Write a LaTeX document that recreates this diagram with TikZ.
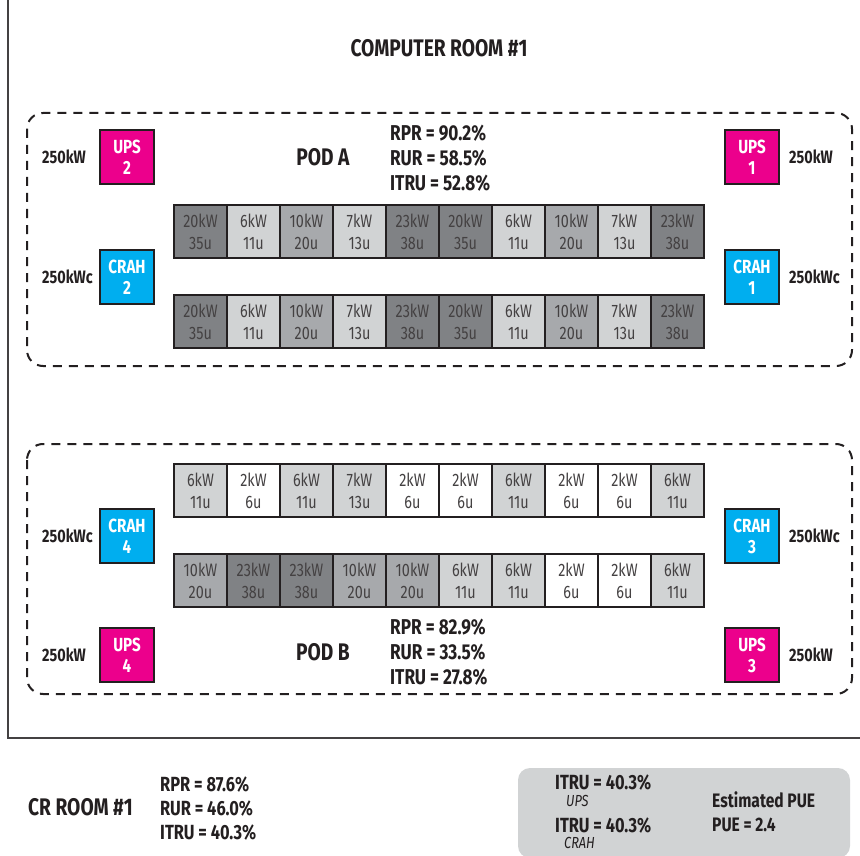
\documentclass[tikz,border=0pt]{standalone}
\usepackage{fontspec}
\setmainfont{Fira Sans}[FakeStretch=0.8]
\usepackage{tikz}
\usetikzlibrary{positioning}
\definecolor{ink}{HTML}{231F20}
\definecolor{upsmag}{HTML}{EC008C}
\definecolor{crahcyan}{HTML}{00AEEF}
\definecolor{panel}{HTML}{D1D3D4}
\definecolor{c2}{HTML}{FFFFFF}
\definecolor{c6}{HTML}{D1D3D4}
\definecolor{c7}{HTML}{D1D3D4}
\definecolor{c10}{HTML}{A7A9AC}
\definecolor{c20}{HTML}{808285}
\definecolor{c23}{HTML}{808285}

\begin{document}
\begin{tikzpicture}[x=1pt, y=-1pt, node distance=9pt]
  \tikzstyle{rack}=[rectangle, draw=ink, line width=2.5pt, minimum width=53pt,
                    minimum height=53pt, inner sep=0pt, align=center,
                    text=ink!85, font=\fontsize{18}{22}\selectfont]
  \tikzstyle{unit}=[rectangle, draw=ink, line width=2pt, minimum size=54pt,
                    inner sep=0pt, align=center, text=white,
                    font=\fontsize{19}{21}\selectfont\bfseries]
  \tikzstyle{ups}=[unit, fill=upsmag]
  \tikzstyle{crah}=[unit, fill=crahcyan]
  \tikzstyle{lbl}=[inner sep=0pt, text=ink, font=\fontsize{18}{21}\selectfont\bfseries]
  \tikzstyle{stats}=[inner sep=0pt, anchor=west, align=left, text=ink,
                     font=\fontsize{21.5}{25}\selectfont\bfseries]
  \tikzstyle{podname}=[inner sep=0pt, text=ink, font=\fontsize{24}{28}\selectfont\bfseries]
  \tikzstyle{pod}=[draw=ink, line width=2pt, dash pattern=on 9pt off 7pt, rounded corners=16pt]

  \clip (0,0) rectangle (860,856);
  \draw[ink!85, line width=2pt] (8,-20) rectangle (880,738);
  \node[podname](room) at (439,48){COMPUTER ROOM \#1};

  % pod A
  \draw[pod] (27,113) rectangle (852,366);
  \node[ups](ups2) at (127,157){UPS\\2};
  \node[crah](crah2) at (127,277){CRAH\\2};
  \node[ups](ups1) at (752,157){UPS\\1};
  \node[crah](crah1) at (752,277){CRAH\\1};
  \node[lbl, anchor=west](ups2kw) at (42,157){250kW};
  \node[lbl, anchor=west](crah2kw) at (42,277){250kWc};
  \node[lbl, right=of ups1](ups1kw){250kW};
  \node[lbl, right=of crah1](crah1kw){250kWc};
  \node[podname](poda) at (323,157){POD A};
  \node[stats](statsa) at (390,158){RPR = 90.2\%\\RUR = 58.5\%\\ITRU = 52.8\%};
  \foreach \kw/\u [count=\i] in {20/35,6/11,10/20,7/13,23/38,20/35,6/11,10/20,7/13,23/38}{
    \node[rack, fill=c\kw](ra\i) at ({147.5+53*\i},231.5){\kw kW\\\u u};
    \node[rack, fill=c\kw](rb\i) at ({147.5+53*\i},321.5){\kw kW\\\u u};
  }

  % pod B
  \draw[pod] (27,444) rectangle (852,694);
  \node[crah](crah4) at (127,536){CRAH\\4};
  \node[ups](ups4) at (127,655){UPS\\4};
  \node[crah](crah3) at (752,536){CRAH\\3};
  \node[ups](ups3) at (752,655){UPS\\3};
  \node[lbl, anchor=west](crah4kw) at (42,536){250kWc};
  \node[lbl, anchor=west](ups4kw) at (42,655){250kW};
  \node[lbl, right=of crah3](crah3kw){250kWc};
  \node[lbl, right=of ups3](ups3kw){250kW};
  \node[podname](podb) at (323,652){POD B};
  \node[stats](statsb) at (390,652){RPR = 82.9\%\\RUR = 33.5\%\\ITRU = 27.8\%};
  \foreach \kw/\u [count=\i] in {6/11,2/6,6/11,7/13,2/6,2/6,6/11,2/6,2/6,6/11}{
    \node[rack, fill=c\kw](rc\i) at ({147.5+53*\i},490.5){\kw kW\\\u u};
  }
  \foreach \kw/\u [count=\i] in {10/20,23/38,23/38,10/20,10/20,6/11,6/11,2/6,2/6,6/11}{
    \node[rack, fill=c\kw](rd\i) at ({147.5+53*\i},580.5){\kw kW\\\u u};
  }

  % totals
  \node[podname, anchor=west](cr) at (28,807){CR ROOM \#1};
  \node[stats, font=\fontsize{20.5}{24}\selectfont\bfseries](crstats) at (160,809){RPR = 87.6\%\\RUR = 46.0\%\\ITRU = 40.3\%};
  \draw[fill=panel, draw=none, rounded corners=12pt] (518,768) rectangle (850,858);
  \node[stats, font=\fontsize{20.5}{24}\selectfont\bfseries](itruups) at (555,783){ITRU = 40.3\%};
  \node[stats, font=\fontsize{16}{18}\selectfont\itshape](upsnote) at (566,801){UPS};
  \node[stats, font=\fontsize{20.5}{24}\selectfont\bfseries](itrucrah) at (555,826){ITRU = 40.3\%};
  \node[stats, font=\fontsize{16}{18}\selectfont\itshape](crahnote) at (564,843){CRAH};
  \node[stats, font=\fontsize{19.5}{24}\selectfont\bfseries](estpue) at (712,800){Estimated PUE};
  \node[stats, font=\fontsize{19.5}{24}\selectfont\bfseries](pue) at (712,825){PUE = 2.4};
\end{tikzpicture}
\end{document}
